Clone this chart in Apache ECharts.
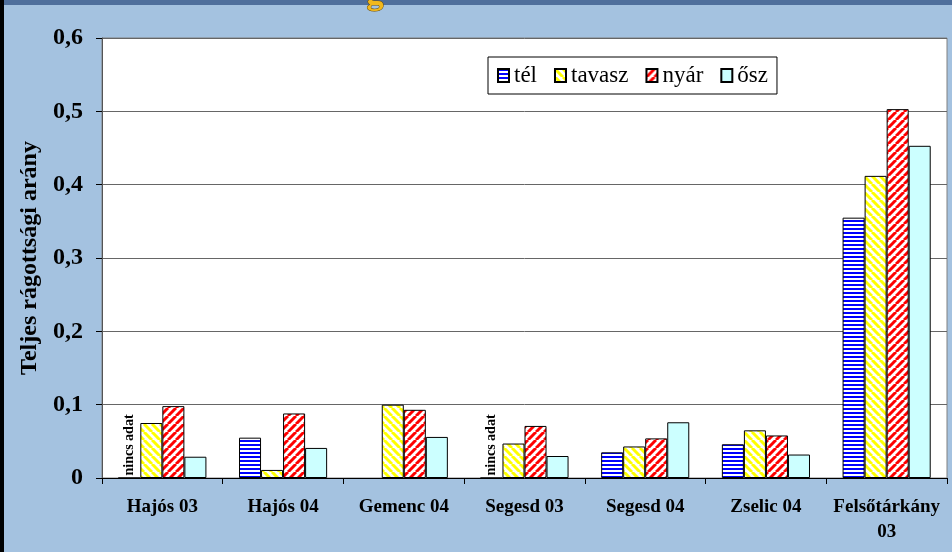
<!DOCTYPE html>
<html>
<head>
<meta charset="utf-8">
<script src="https://cdn.jsdelivr.net/npm/echarts@6/dist/echarts.min.js"></script>
<style>
  html, body { margin: 0; padding: 0; background: #a4c2e0; }
  #chart { width: 952px; height: 552px; }
</style>
</head>
<body>
<div id="chart"></div>
<script>
// adatok
const categories = ['Hajós 03', 'Hajós 04', 'Gemenc 04', 'Segesd 03', 'Segesd 04', 'Zselic 04', 'Felsőtárkány\n03']
const tel = ['-', 0.055, '-', '-', 0.035, 0.046, 0.355]
const tavasz = [0.075, 0.011, 0.100, 0.047, 0.043, 0.065, 0.412]
const nyar = [0.098, 0.088, 0.093, 0.071, 0.054, 0.058, 0.503]
const osz = [0.029, 0.041, 0.056, 0.030, 0.076, 0.032, 0.453]
const nincsAdat = ['Hajós 03', 'Segesd 03']
const yTicks = [0, 0.1, 0.2, 0.3, 0.4, 0.5, 0.6]

const serif = '"Liberation Serif", "DejaVu Serif", serif'

function makePattern(kind, color) {
  const size = kind === 'h' ? 4 : 8
  const c = document.createElement('canvas')
  c.width = size
  c.height = size
  const ctx = c.getContext('2d')
  ctx.fillStyle = '#fff'
  ctx.fillRect(0, 0, size, size)
  ctx.fillStyle = color
  ctx.strokeStyle = color
  if (kind === 'h') {
    ctx.fillRect(0, 0, size, 2)
  } else {
    ctx.lineWidth = 3
    for (let k = -1; k <= 1; k++) {
      ctx.beginPath()
      if (kind === 'back') {
        ctx.moveTo(k * size, 0)
        ctx.lineTo(k * size + size, size)
      } else {
        ctx.moveTo(k * size, size)
        ctx.lineTo(k * size + size, 0)
      }
      ctx.stroke()
    }
  }
  return { image: c, repeat: 'repeat' }
}

const telData = tel.map((v, i) => {
  if (nincsAdat.indexOf(categories[i]) >= 0) {
    return {
      value: 0,
      label: {
        show: true,
        formatter: 'nincs adat',
        position: 'insideBottom',
        rotate: 90,
        align: 'left',
        verticalAlign: 'middle',
        distance: 3,
        fontFamily: serif,
        fontWeight: 'bold',
        fontSize: 14,
        color: '#000'
      }
    }
  }
  return v
})

const chart = echarts.init(document.getElementById('chart'))

const border = { borderColor: '#000', borderWidth: 1 }

chart.setOption({
  backgroundColor: '#a4c2e0',
  animation: false,
  graphic: [
    { type: 'rect', shape: { x: 0, y: 0, width: 952, height: 5 }, style: { fill: '#4f6f9c' } },
    { type: 'rect', shape: { x: 0, y: 0, width: 4, height: 552 }, style: { fill: '#000' } },
    {
      type: 'text', left: 366, top: -22,
      style: { text: 'g', font: 'bold 34px ' + serif, fill: '#f2b81c', stroke: '#6b4a00', lineWidth: 1 }
    }
  ],
  grid: {
    left: 102,
    top: 38,
    right: 5,
    bottom: 74,
    show: true,
    backgroundColor: '#fff',
    borderColor: '#808080',
    borderWidth: 1
  },
  legend: {
    left: 488,
    top: 57,
    padding: [7, 9, 7, 9],
    itemGap: 17,
    itemWidth: 11,
    itemHeight: 13,
    icon: 'rect',
    backgroundColor: '#fff',
    borderColor: '#000',
    borderWidth: 1,
    textStyle: { fontFamily: serif, fontSize: 23, color: '#000' },
    data: ['tél', 'tavasz', 'nyár', 'ősz']
  },
  xAxis: {
    type: 'category',
    data: categories,
    axisLine: { lineStyle: { color: '#000', width: 1 } },
    axisTick: { show: true, length: 6, lineStyle: { color: '#000' } },
    axisLabel: {
      interval: 0,
      margin: 17,
      fontFamily: serif,
      fontWeight: 'bold',
      fontSize: 19,
      lineHeight: 25,
      color: '#000'
    }
  },
  yAxis: {
    type: 'value',
    min: 0,
    max: 0.6,
    interval: 0.1,
    name: 'Teljes rágottsági arány',
    nameLocation: 'middle',
    nameGap: 58,
    nameRotate: 90,
    nameTextStyle: { fontFamily: serif, fontWeight: 'bold', fontSize: 24, color: '#000' },
    axisLine: { show: true, lineStyle: { color: '#555' } },
    axisTick: { show: true, length: 6, lineStyle: { color: '#000' } },
    splitLine: { lineStyle: { color: '#666', width: 1 } },
    axisLabel: {
      margin: 19,
      fontFamily: serif,
      fontWeight: 'bold',
      fontSize: 24,
      color: '#000',
      formatter: function (v) {
        const t = yTicks.find(x => Math.abs(x - v) < 1e-6)
        if (t === 0) return '0'
        return (t !== undefined ? t : v).toFixed(1).replace('.', ',')
      }
    }
  },
  series: [
    {
      name: 'tél', type: 'bar', data: telData,
      barGap: '0%', barCategoryGap: '27%',
      itemStyle: Object.assign({ color: makePattern('h', '#0000ff') }, border)
    },
    {
      name: 'tavasz', type: 'bar', data: tavasz,
      barGap: '0%', barCategoryGap: '27%',
      itemStyle: Object.assign({ color: makePattern('back', '#ffff00') }, border)
    },
    {
      name: 'nyár', type: 'bar', data: nyar,
      barGap: '0%', barCategoryGap: '27%',
      itemStyle: Object.assign({ color: makePattern('fwd', '#ff0000') }, border)
    },
    {
      name: 'ősz', type: 'bar', data: osz,
      barGap: '0%', barCategoryGap: '27%',
      itemStyle: Object.assign({ color: '#ccffff' }, border)
    }
  ]
})
</script>
</body>
</html>
